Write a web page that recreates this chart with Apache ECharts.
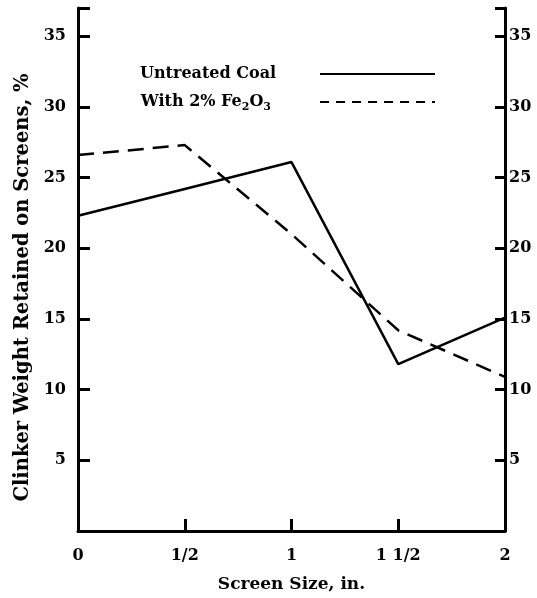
<!DOCTYPE html>
<html>
<head>
<meta charset="utf-8">
<script src="https://cdn.jsdelivr.net/npm/echarts@6/dist/echarts.min.js"></script>
<style>
  html, body { margin: 0; padding: 0; background: #fff; }
  #main { width: 537px; height: 598px; }
</style>
</head>
<body>
<div id="main"></div>
<script>
var screenSizes = [0, 0.5, 1, 1.5, 2];
var xTickLabels = ['0', '1/2', '1', '1 1/2', '2'];
var untreatedCoal = [22.3, 24.2, 26.1, 11.8, 15.1];
var withFe2O3 = [26.6, 27.3, 21.0, 14.2, 10.9];

var chartDom = document.getElementById('main');
var myChart = echarts.init(chartDom);
var option;

var font = 'DejaVu Serif';

function pairs(xs, ys) {
  return xs.map(function (x, i) { return [x, ys[i]]; });
}

function yLabel(v) {
  return (v > 0 && v % 5 === 0) ? String(v) : '';
}

option = {
  animation: false,
  textStyle: { fontFamily: font, color: '#000' },
  grid: { left: 78, right: 32, top: 8, bottom: 67 },
  legend: {
    orient: 'vertical',
    left: 135,
    top: 61,
    align: 'right',
    itemWidth: 115,
    itemHeight: 14,
    itemGap: 12,
    itemStyle: { opacity: 0 },
    textStyle: {
      fontFamily: font, fontWeight: 'bold', fontSize: 16, color: '#000',
      rich: {
        a: { width: 175, align: 'left', fontFamily: font, fontWeight: 'bold', fontSize: 16 },
        b: { fontFamily: font, fontWeight: 'bold', fontSize: 16 },
        s: { fontFamily: font, fontWeight: 'bold', fontSize: 11, padding: [10, 0, 0, 0] },
        e: { width: 44 }
      }
    },
    formatter: function (name) {
      if (name === 'Untreated Coal') return '{a|Untreated Coal}';
      return '{b|With 2% Fe}{s|2}{b|O}{s|3}{e|}';
    },
    data: [
      { name: 'Untreated Coal' },
      { name: 'With 2% Fe2O3', lineStyle: { type: [9, 7] } }
    ]
  },
  xAxis: {
    type: 'value',
    min: 0,
    max: 2,
    interval: 0.5,
    name: 'Screen Size, in.',
    nameLocation: 'middle',
    nameGap: 45,
    nameTextStyle: { fontFamily: font, fontWeight: 'bold', fontSize: 17, color: '#000' },
    splitLine: { show: false },
    axisLine: { lineStyle: { color: '#000', width: 3 } },
    axisTick: { inside: true, length: 12, lineStyle: { color: '#000', width: 3 } },
    axisLabel: {
      margin: 17,
      fontFamily: font, fontWeight: 'bold', fontSize: 16, color: '#000',
      formatter: function (v) {
        var i = screenSizes.indexOf(v);
        return i >= 0 ? xTickLabels[i] : '';
      }
    }
  },
  yAxis: [
    {
      type: 'value',
      min: 0,
      max: 37,
      interval: 5,
      position: 'left',
      name: 'Clinker Weight Retained on Screens, %',
      nameLocation: 'middle',
      nameRotate: 90,
      nameGap: 45,
      nameTextStyle: {
        fontFamily: font, fontWeight: 'bold', fontSize: 19.5, color: '#000',
        padding: [0, 36, 0, 0]
      },
      splitLine: { show: false },
      axisLine: { show: true, lineStyle: { color: '#000', width: 3 } },
      axisTick: { inside: true, length: 12, lineStyle: { color: '#000', width: 3 } },
      axisLabel: {
        margin: 12,
        fontFamily: font, fontWeight: 'bold', fontSize: 16, color: '#000',
        formatter: yLabel
      }
    },
    {
      type: 'value',
      min: 0,
      max: 37,
      interval: 5,
      position: 'right',
      splitLine: { show: false },
      axisLine: { show: true, lineStyle: { color: '#000', width: 3 } },
      axisTick: { inside: true, length: 10, lineStyle: { color: '#000', width: 3 } },
      axisLabel: {
        margin: 4,
        fontFamily: font, fontWeight: 'bold', fontSize: 16, color: '#000',
        formatter: yLabel
      }
    }
  ],
  series: [
    {
      name: 'Untreated Coal',
      type: 'line',
      data: pairs(screenSizes, untreatedCoal),
      symbol: 'none',
      lineStyle: { color: '#000', width: 2.5 },
      itemStyle: { color: '#000' }
    },
    {
      name: 'With 2% Fe2O3',
      type: 'line',
      data: pairs(screenSizes, withFe2O3),
      symbol: 'none',
      lineStyle: { color: '#000', width: 2.5, type: [16, 9] },
      itemStyle: { color: '#000' }
    }
  ]
};

option && myChart.setOption(option);
</script>
</body>
</html>
